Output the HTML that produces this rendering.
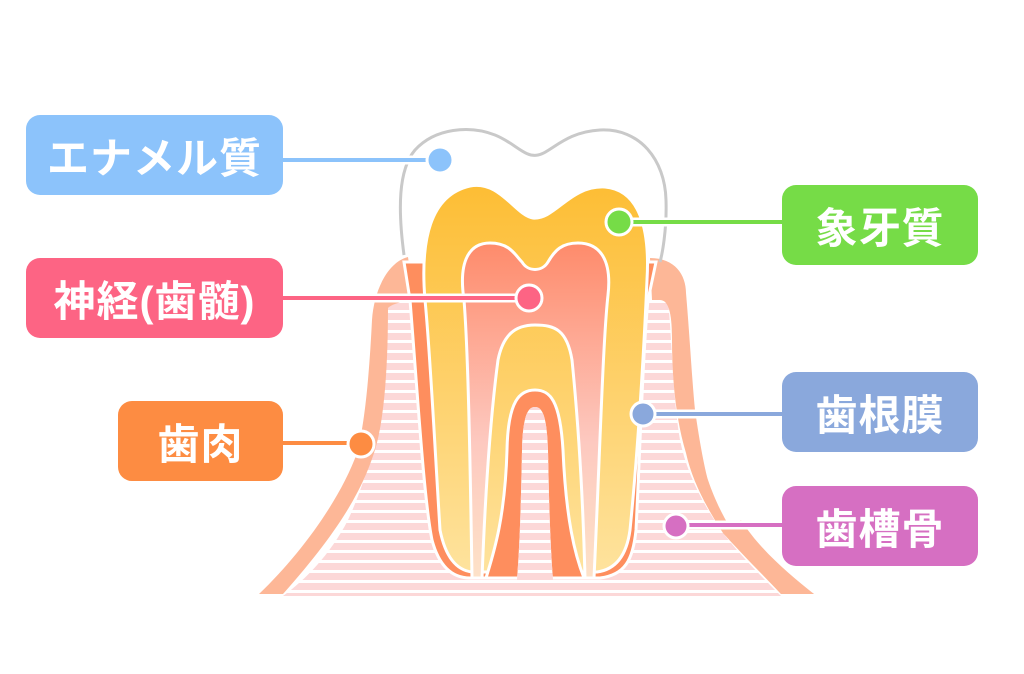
<!DOCTYPE html>
<html><head><meta charset="utf-8"><style>
html,body{margin:0;padding:0;background:#fff;}
body{width:1024px;height:674px;overflow:hidden;position:relative;}
.lb{position:absolute;border-radius:14px;color:#fff;font-family:"Liberation Sans","Noto Sans CJK JP",sans-serif;font-weight:bold;font-size:42px;display:flex;align-items:center;justify-content:center;letter-spacing:1px;}
svg{position:absolute;left:0;top:0;}
</style></head><body>
<svg width="1024" height="674" viewBox="0 0 1024 674">
<defs>
<pattern id="st" x="0" y="0" width="10" height="10" patternUnits="userSpaceOnUse">
<rect x="0" y="3" width="10" height="7" fill="#fcd8d8"/>
</pattern>
<linearGradient id="dg" x1="0" y1="180" x2="0" y2="575" gradientUnits="userSpaceOnUse">
<stop offset="0" stop-color="#fdbd33"/><stop offset="1" stop-color="#fee39e"/>
</linearGradient>
<linearGradient id="pg" x1="0" y1="240" x2="0" y2="578" gradientUnits="userSpaceOnUse">
<stop offset="0" stop-color="#fe8a6a"/><stop offset="0.6" stop-color="#fdc9c0"/><stop offset="1" stop-color="#fde2c8"/>
</linearGradient>
</defs>
<path d="M388,300 C388,380 380,450 348,520 C330,555 305,580 283,596 L781,596 C760,575 740,555 723,533 C700,500 686,470 680,440 C673,400 672,340 668,300 Z" fill="url(#st)"/>
<path d="M259,594 C300,555 340,500 357,453 C366,420 370,360 372,320 C374,290 388,262 408,257 L414,300 C400,302 392,304 388,308 C388,360 385,420 374,453 C362,490 340,530 283,594 Z" fill="#fdb797"/>
<path d="M650,258 C675,258 686,275 686,293 C690,340 692,380 695,410 C700,445 705,470 708,480 C720,515 735,535 741,545 L814,594 L781,594 C760,570 740,550 723,533 C705,505 692,480 686,453 C676,420 672,380 672,340 C672,318 670,300 660,300 L652,300 Z" fill="#fdb797"/>
<path d="M741,520 C760,550 790,575 814,594 L781,594 C760,572 740,552 723,533 Z" fill="#fdb797"/>
<path d="M404,262 L410,300 C418,400 424,500 432,540 C440,570 455,578 470,578 L600,578 C625,575 633,560 636,530 C640,450 643,350 648,300 L656,262 Z" fill="#fe8e5e" stroke="#fff" stroke-width="3"/>
<path d="M404,255 C398,210 398,170 415,150 C435,128 470,125 495,135 C515,143 525,158 538,155 C552,152 565,132 600,130 C640,128 665,160 666,200 C667,230 662,255 660,262" fill="none" stroke="#c9c9c9" stroke-width="3"/>
<path d="M425,300 C420,240 430,195 470,186 C500,180 515,215 533,218 C555,220 570,185 605,187 C640,190 650,230 647,280 C644,350 638,450 630,530 C626,560 612,570 597,572 L472,572 C455,570 445,555 440,530 C435,450 430,350 425,300 Z" fill="url(#dg)" stroke="#fff" stroke-width="3"/>
<path d="M472,578 C470,450 468,350 464,300 C458,260 470,243 490,243 C510,243 515,255 522,262 C528,272 542,272 548,262 C555,250 562,243 578,243 C600,243 612,260 608,295 C603,340 600,450 594,578 L585,578 C583,500 578,420 572,360 C567,330 555,325 535,325 C515,325 503,335 498,360 C490,420 485,500 482,578 Z" fill="url(#pg)" stroke="#fff" stroke-width="3"/>
<path d="M486,578 C493,555 505,520 507,450 C508,400 520,390 535,390 C550,390 560,400 563,450 C566,520 575,555 584,578 Z" fill="#fe8e5e" stroke="#fff" stroke-width="3"/>
<path d="M517,580 C520,540 521,500 522,450 C523,415 528,407 535,407 C542,407 547,415 548,450 C549,500 550,540 553,580 Z" fill="#fff"/>
<path d="M517,580 C520,540 521,500 522,450 C523,415 528,407 535,407 C542,407 547,415 548,450 C549,500 550,540 553,580 Z" fill="url(#st)"/>
<g stroke-linecap="round">
<line x1="283" y1="160" x2="440" y2="160" stroke="#fff" stroke-width="9"/>
<line x1="283" y1="160" x2="440" y2="160" stroke="#8cc3fb" stroke-width="4"/>
<line x1="283" y1="298" x2="529" y2="298" stroke="#fff" stroke-width="9"/>
<line x1="283" y1="298" x2="529" y2="298" stroke="#fd6484" stroke-width="4"/>
<line x1="283" y1="443" x2="361" y2="443" stroke="#fff" stroke-width="9"/>
<line x1="283" y1="443" x2="361" y2="443" stroke="#fd8c42" stroke-width="4"/>
<line x1="619" y1="222" x2="782" y2="222" stroke="#fff" stroke-width="9"/>
<line x1="619" y1="222" x2="782" y2="222" stroke="#76dc47" stroke-width="4"/>
<line x1="643" y1="414" x2="782" y2="414" stroke="#fff" stroke-width="9"/>
<line x1="643" y1="414" x2="782" y2="414" stroke="#8aa8dc" stroke-width="4"/>
<line x1="676" y1="525" x2="782" y2="525" stroke="#fff" stroke-width="9"/>
<line x1="676" y1="525" x2="782" y2="525" stroke="#d66fc2" stroke-width="4"/>
</g>
<circle cx="440" cy="160" r="13" fill="#8cc3fb" stroke="#fff" stroke-width="3"/>
<circle cx="529" cy="298" r="13" fill="#fd6484" stroke="#fff" stroke-width="3"/>
<circle cx="361" cy="444" r="13" fill="#fd8c42" stroke="#fff" stroke-width="3"/>
<circle cx="619" cy="222" r="13" fill="#76dc47" stroke="#fff" stroke-width="3"/>
<circle cx="643" cy="414" r="12" fill="#8aa8dc" stroke="#fff" stroke-width="3"/>
<circle cx="676" cy="526" r="12" fill="#d66fc2" stroke="#fff" stroke-width="3"/>
</svg>
<div class="lb" style="left:26px;top:115px;width:257px;height:80px;background:#8cc3fb;">エナメル質</div>
<div class="lb" style="left:26px;top:258px;width:257px;height:80px;background:#fd6484;">神経(歯髄)</div>
<div class="lb" style="left:118px;top:401px;width:165px;height:80px;background:#fd8c42;">歯肉</div>
<div class="lb" style="left:782px;top:185px;width:196px;height:80px;background:#76dc47;">象牙質</div>
<div class="lb" style="left:782px;top:372px;width:196px;height:80px;background:#8aa8dc;">歯根膜</div>
<div class="lb" style="left:782px;top:486px;width:196px;height:80px;background:#d66fc2;">歯槽骨</div>
</body></html>
